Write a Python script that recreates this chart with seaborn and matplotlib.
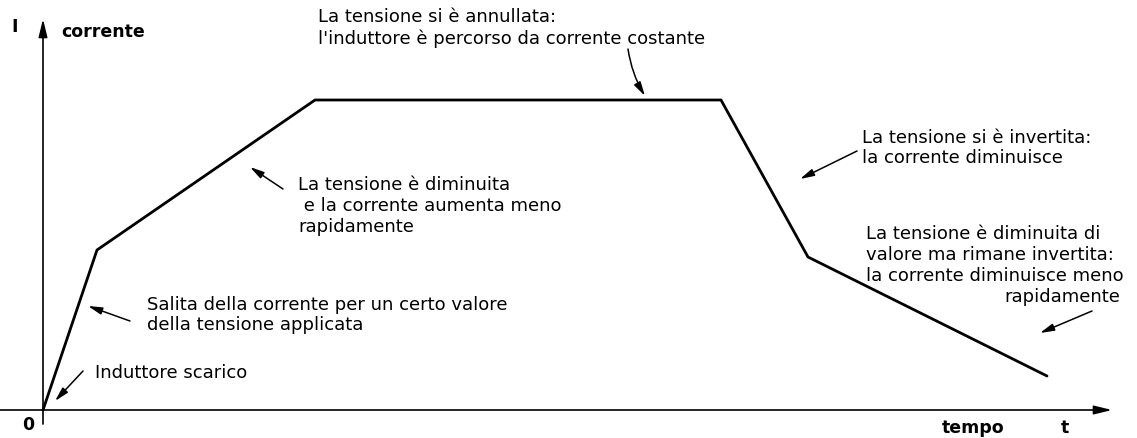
import matplotlib
matplotlib.use("Agg")
import matplotlib.pyplot as plt
import pandas as pd
import seaborn as sns

# Andamento della corrente in un induttore (unità arbitrarie)
tempo = [0.0, 5.4, 27.2, 67.8, 76.5, 100.4]
corrente = [0.0, 16.0, 31.0, 31.0, 15.3, 3.4]

TEXT_ANNULLATA = "La tensione si è annullata:\nl'induttore è percorso da corrente costante"
TEXT_DIMINUITA = "La tensione è diminuita\n e la corrente aumenta meno\nrapidamente"
TEXT_SALITA = "Salita della corrente per un certo valore\ndella tensione applicata"
TEXT_SCARICO = "Induttore scarico"
TEXT_INVERTITA = "La tensione si è invertita:\nla corrente diminuisce"
TEXT_INV_DIMIN = "La tensione è diminuita di\nvalore ma rimane invertita:\nla corrente diminuisce meno"
TEXT_RAPIDAMENTE = "rapidamente"

sns.set_theme(style="white")
plt.rcParams["font.family"] = ["DejaVu Sans"]

df = pd.DataFrame({"t": tempo, "I": corrente})

fig = plt.figure(figsize=(11.37, 4.39), dpi=100)
ax = fig.add_axes([0, 0, 1, 1])
sns.lineplot(data=df, x="t", y="I", color="black", linewidth=2.0, sort=False, ax=ax)
ax.set_xlim(-4.3, 109.4)
ax.set_ylim(-2.8, 41.1)
ax.set_axis_off()

# assi con freccia
axis_arrow = dict(arrowstyle="-|>,head_length=0.9,head_width=0.22", color="black", lw=1.2,
                  shrinkA=0, shrinkB=0)
ax.annotate("", xy=(106.9, 0), xytext=(-4.3, 0), arrowprops=axis_arrow)
ax.annotate("", xy=(0, 39.1), xytext=(0, -1.4), arrowprops=axis_arrow)

bold = dict(fontsize=12.5, fontweight="bold", va="center", color="black")
ax.text(-2.8, 38.4, "I", ha="center", **bold)
ax.text(1.8, 37.9, "corrente", ha="left", **bold)
ax.text(-1.5, -1.4, "0", ha="center", **bold)
ax.text(93.0, -1.7, "tempo", ha="center", **bold)
ax.text(102.2, -1.7, "t", ha="center", **bold)

note = dict(fontsize=13, va="center", color="black", linespacing=1.2)
pointer = dict(arrowstyle="-|>,head_length=0.7,head_width=0.18", color="black", lw=1.1,
               shrinkA=0, shrinkB=0)

ax.text(27.5, 38.3, TEXT_ANNULLATA, ha="left", **note)
ax.annotate("", xy=(60.2, 31.4), xytext=(58.5, 36.1),
            arrowprops=dict(pointer, connectionstyle="arc3,rad=0.1"))

ax.text(25.5, 20.5, TEXT_DIMINUITA, ha="left", **note)
ax.annotate("", xy=(20.7, 24.3), xytext=(24.0, 22.1), arrowprops=pointer)

ax.text(10.4, 9.6, TEXT_SALITA, ha="left", **note)
ax.annotate("", xy=(4.5, 10.4), xytext=(8.7, 8.9), arrowprops=pointer)

ax.text(5.2, 3.8, TEXT_SCARICO, ha="left", **note)
ax.annotate("", xy=(1.2, 0.9), xytext=(4.0, 3.9), arrowprops=pointer)

ax.text(81.9, 26.3, TEXT_INVERTITA, ha="left", **note)
ax.annotate("", xy=(75.7, 23.1), xytext=(81.4, 25.9), arrowprops=pointer)

ax.text(82.3, 15.6, TEXT_INV_DIMIN, ha="left", **note)
ax.text(107.7, 11.4, TEXT_RAPIDAMENTE, ha="right", **note)
ax.annotate("", xy=(99.7, 7.7), xytext=(104.9, 9.9), arrowprops=pointer)

fig.savefig("out.png", dpi=100)
